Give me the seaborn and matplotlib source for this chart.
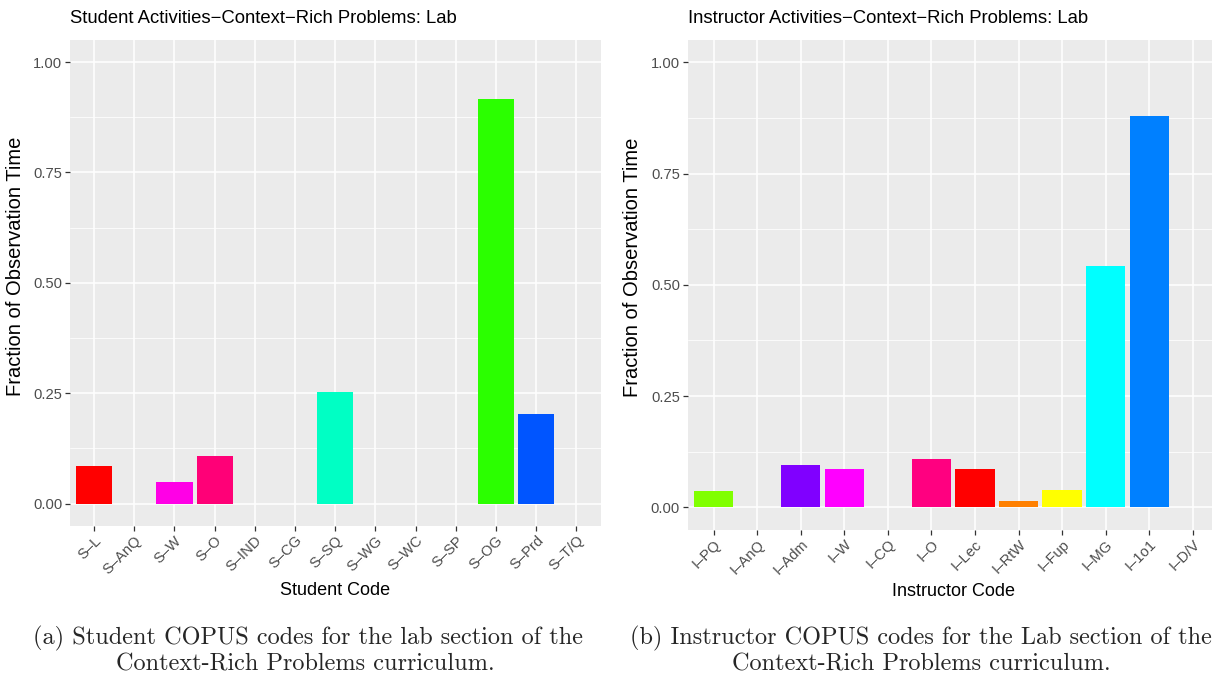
import numpy as np
import pandas as pd
import seaborn as sns
import matplotlib.pyplot as plt
from matplotlib.ticker import MultipleLocator

# student codes (left panel)
student_codes = ['S–L', 'S–AnQ', 'S–W', 'S–O', 'S–IND', 'S–CG', 'S–SQ',
                 'S–WG', 'S–WC', 'S–SP', 'S–OG', 'S–Prd', 'S–T/Q']
student_frac = [0.085, 0.0, 0.049, 0.107, 0.0, 0.0, 0.253,
                0.0, 0.0, 0.0, 0.916, 0.204, 0.0]
student_colors = ['#FF0000', '#FF7700', '#FF00E6', '#FF0077', '#FFEE00', '#99FF00', '#00FFC4',
                  '#00FF55', '#00CCFF', '#0033FF', '#2BFF00', '#0055FF', '#AA00FF']

# instructor codes (right panel)
instr_codes = ['I–PQ', 'I–AnQ', 'I–Adm', 'I–W', 'I–CQ', 'I–O', 'I–Lec',
               'I–RtW', 'I–Fup', 'I–MG', 'I–1o1', 'I–D/V']
instr_frac = [0.037, 0.0, 0.096, 0.085, 0.0, 0.109, 0.085,
              0.013, 0.038, 0.543, 0.880, 0.0]
instr_colors = ['#80FF00', '#00FF80', '#8000FF', '#FF00FF', '#0000FF', '#FF0080', '#FF0000',
                '#FF8000', '#FFFF00', '#00FFFF', '#0080FF', '#00FF00']

sns.set_theme(style="darkgrid", rc={"axes.facecolor": "#EBEBEB",
                                    "grid.color": "white"})
plt.rcParams['font.family'] = ['Liberation Sans', 'DejaVu Sans']

fig = plt.figure(figsize=(12.12, 6.77), dpi=100)
W, H = 1212, 677


def panel(x0, x1, y0, y1, codes, vals, cols, title, xlabel):
    ax = fig.add_axes([x0 / W, 1 - y1 / H, (x1 - x0) / W, (y1 - y0) / H])
    df = pd.DataFrame({'code': codes, 'frac': vals})
    sns.barplot(data=df, x='code', y='frac', hue='code', order=codes,
                palette=dict(zip(codes, cols)), legend=False, width=0.9,
                saturation=1, linewidth=0, ax=ax)
    ax.set_xlim(-0.6, len(codes) - 0.4)
    ax.set_ylim(-0.05, 1.05)
    ax.set_yticks([0, 0.25, 0.5, 0.75, 1.0])
    ax.set_yticklabels(['0.00', '0.25', '0.50', '0.75', '1.00'])
    ax.yaxis.set_minor_locator(MultipleLocator(0.125))
    ax.grid(which='major', color='white', linewidth=1.1)
    ax.grid(which='minor', axis='y', color='white', linewidth=0.55)
    ax.set_axisbelow(True)
    for s in ax.spines.values():
        s.set_visible(False)
    ax.tick_params(axis='both', which='major', bottom=True, left=True,
                   length=3.5, width=0.9, color='#333333',
                   labelcolor='#4D4D4D', labelsize=10.6, pad=2)
    ax.tick_params(axis='both', which='minor', length=0)
    plt.setp(ax.get_xticklabels(), rotation=45, ha='right',
             rotation_mode='anchor')
    ax.set_xlabel(xlabel, fontsize=13, color='black', labelpad=4)
    ax.set_ylabel('Fraction of Observation Time', fontsize=14.5,
                  color='black', labelpad=3)
    ax.yaxis.set_label_coords(-0.085, 0.535)
    ax.set_title(title, loc='left', fontsize=13.3, color='black', pad=12)
    return ax


panel(70, 600.5, 40, 525.7, student_codes, student_frac, student_colors,
      'Student Activities−Context−Rich Problems: Lab', 'Student Code')
panel(687.6, 1218.8, 40, 529.5, instr_codes, instr_frac, instr_colors,
      'Instructor Activities−Context−Rich Problems: Lab', 'Instructor Code')

cap_font = dict(family='cmr10', fontsize=17.5, ha='center', va='center')
fig.text(308 / W, 1 - 638 / H, '(a) Student COPUS codes for the lab section of the', **cap_font)
fig.text(305 / W, 1 - 664 / H, 'Context-Rich Problems curriculum.', **cap_font)
fig.text(921 / W, 1 - 638 / H, '(b) Instructor COPUS codes for the Lab section of the', **cap_font)
fig.text(921 / W, 1 - 664 / H, 'Context-Rich Problems curriculum.', **cap_font)

fig.savefig('out.png', dpi=100)
